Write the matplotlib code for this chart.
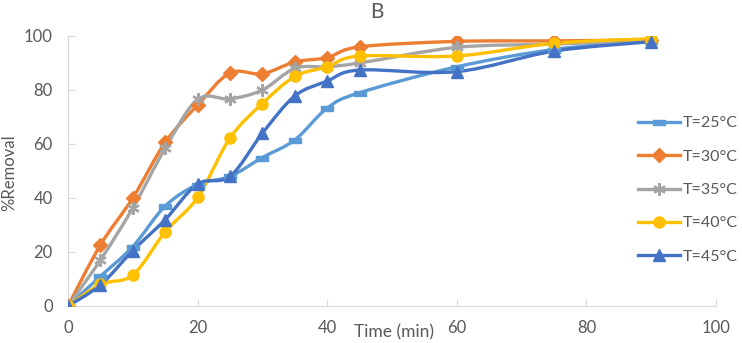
import numpy as np
import matplotlib
matplotlib.use("Agg")
import matplotlib.pyplot as plt
from matplotlib.path import Path
from matplotlib.patches import PathPatch
from matplotlib.lines import Line2D

plt.rcParams['font.family'] = ['Lato', 'DejaVu Sans']

# data
time_min = [0, 5, 10, 15, 20, 25, 30, 35, 40, 45, 60, 75, 90]
t25 = [0, 11, 22, 37, 45, 48, 55, 61.5, 73.3, 79, 88.6, 95, 98.3]
t30 = [0, 22.6, 40, 60.6, 74.4, 86.3, 86, 90.4, 92, 96, 98, 98.2, 98.5]
t35 = [0, 17, 36.3, 58.4, 76.5, 76.7, 80, 88, 88.6, 90, 95.8, 97, 98.5]
t40 = [0, 8, 11.5, 27.5, 40.2, 62.2, 75, 85, 88.6, 92.6, 92.6, 97.3, 99]
t45 = [0, 7.8, 20.5, 32, 45.2, 48, 64, 77.8, 83.3, 87.4, 86.8, 94.4, 97.9]

labels = ["T=25°C", "T=30°C", "T=35°C", "T=40°C", "T=45°C"]
series = [t25, t30, t35, t40, t45]
colors = ["#5B9BD5", "#ED7D31", "#A5A5A5", "#FFC000", "#4472C4"]

dash = Path([(-1, -0.45), (1, -0.45), (1, 0.45), (-1, 0.45), (-1, -0.45)],
            [Path.MOVETO, Path.LINETO, Path.LINETO, Path.LINETO, Path.CLOSEPOLY])
markers = [dash, "D", (6, 2, 0), "o", "^"]
msizes = [8, 7, 9, 8, 9]


def smooth_path(x, y):
    # Catmull-Rom style bezier like Excel's smoothed lines
    pts = np.column_stack([x, y]).astype(float)
    verts = [pts[0]]
    codes = [Path.MOVETO]
    n = len(pts)
    for i in range(n - 1):
        p0 = pts[i - 1] if i > 0 else pts[i]
        p1 = pts[i]
        p2 = pts[i + 1]
        p3 = pts[i + 2] if i + 2 < n else pts[i + 1]
        verts += [p1 + (p2 - p0) / 6, p2 - (p3 - p1) / 6, p2]
        codes += [Path.CURVE4] * 3
    return Path(verts, codes)


fig = plt.figure(figsize=(7.42, 3.43), dpi=100)
ax = fig.add_axes([68 / 742, 1 - 306 / 343, 648 / 742, 270 / 343])

handles = []
for s, lab, c, m, ms in zip(series, labels, colors, markers, msizes):
    ax.add_patch(PathPatch(smooth_path(time_min, s), fill=False, edgecolor=c,
                           linewidth=2.4, capstyle='round', joinstyle='round'))
    mew = 1.6 if m == (6, 2, 0) else 1
    ax.plot(time_min, s, linestyle='none', marker=m, markersize=ms,
            color=c, markeredgecolor=c, markeredgewidth=mew, zorder=3)
    handles.append(Line2D([], [], color=c, linewidth=2.4, marker=m,
                          markersize=ms, markeredgecolor=c, markeredgewidth=mew))

ax.set_xlim(0, 100)
ax.set_ylim(0, 100)
ax.set_xticks(range(0, 101, 20))
ax.set_yticks(range(0, 101, 20))
for side in ["top", "right"]:
    ax.spines[side].set_visible(False)
for side in ["left", "bottom"]:
    ax.spines[side].set_color("#D9D9D9")
    ax.spines[side].set_linewidth(0.8)
ax.tick_params(direction='in', length=5, color="#D9D9D9", labelcolor="#595959",
               labelsize=12)
ax.tick_params(axis='y', pad=11)
ax.tick_params(axis='x', pad=10)

fig.text(377 / 742, 1 - 12 / 343, "B", ha='center', va='center',
         fontsize=15, color="#595959")
fig.text(394 / 742, 1 - 332 / 343, "Time (min)", ha='center', va='center',
         fontsize=12.5, color="#595959")
fig.text(9 / 742, 1 - 173 / 343, "%Removal", ha='center', va='center',
         rotation=90, fontsize=12, color="#595959")

fig.legend(handles, labels, loc='center left',
           bbox_to_anchor=(638 / 742, 1 - 190 / 343), frameon=False,
           fontsize=11.5, labelcolor="#595959", handlelength=2.6,
           handletextpad=0.2, labelspacing=1.2, borderpad=0, borderaxespad=0)

fig.savefig("out.png", dpi=100)
